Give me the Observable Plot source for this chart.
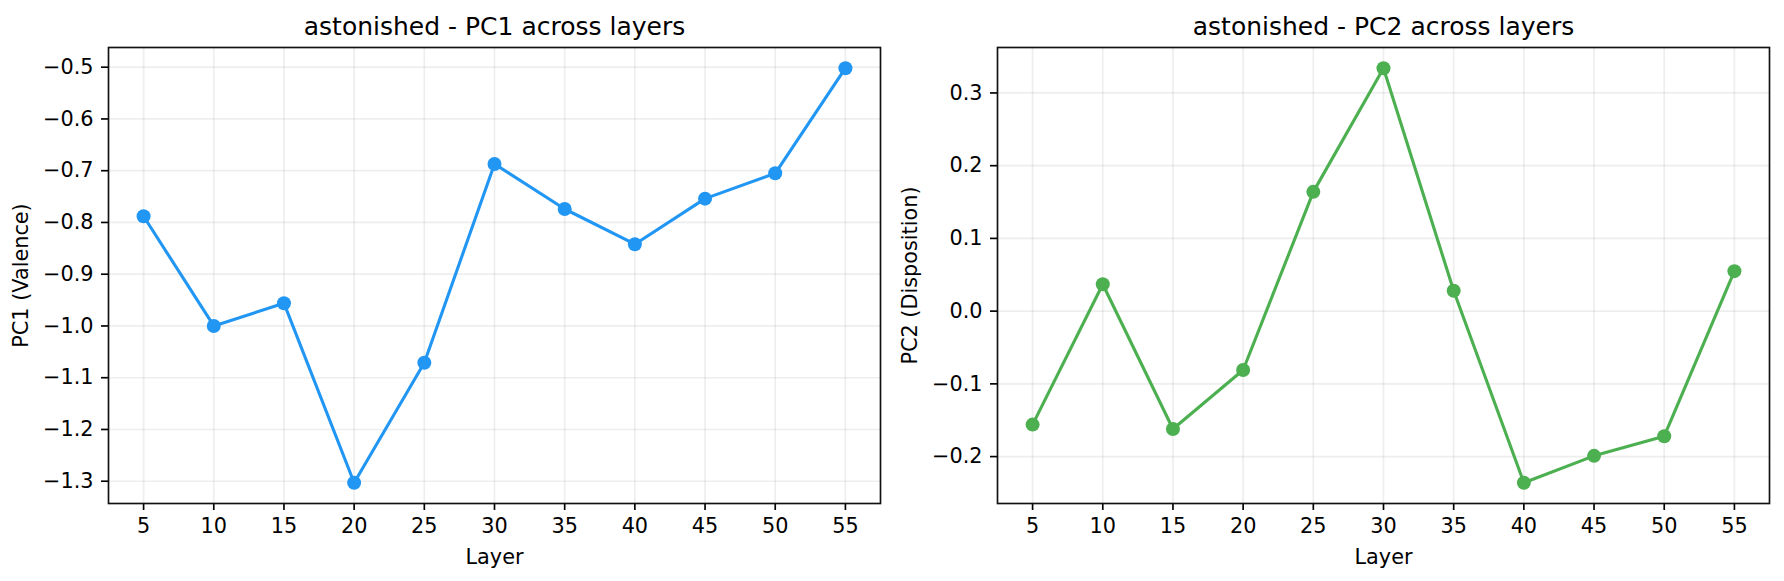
<!DOCTYPE html>
<html>
<head>
<meta charset="utf-8">
<script src="https://cdn.jsdelivr.net/npm/d3@7"></script>
<script src="https://cdn.jsdelivr.net/npm/@observablehq/plot@0.6"></script>
<style>
  html, body { margin: 0; padding: 0; background: white; }
  #wrap { display: flex; width: 1784px; height: 581px; }
</style>
</head>
<body>
<div id="wrap"></div>
<script>
const layers = [5, 10, 15, 20, 25, 30, 35, 40, 45, 50, 55];
const pc1Values = [-0.788, -1.000, -0.956, -1.303, -1.071, -0.687, -0.774, -0.842, -0.754, -0.705, -0.502];
const pc2Values = [-0.156, 0.037, -0.162, -0.081, 0.164, 0.334, 0.028, -0.236, -0.199, -0.172, 0.055];
const pc1Ticks = [-1.3, -1.2, -1.1, -1.0, -0.9, -0.8, -0.7, -0.6, -0.5];
const pc2Ticks = [-0.2, -0.1, 0.0, 0.1, 0.2, 0.3];
const emotion = "astonished";

function panel({values, ticks, color, title, ylabel, marginLeft, marginRight}) {
  const data = layers.map((l, i) => ({layer: l, value: values[i]}));
  const lo = d3.min(values), hi = d3.max(values);
  const pad = (hi - lo) * 0.05;
  const fmt = d3.format(".1f");
  return Plot.plot({
    width: 892,
    height: 581,
    marginLeft, marginRight,
    marginTop: 47,
    marginBottom: 78,
    style: {fontFamily: "'DejaVu Sans', sans-serif", fontSize: "20.8px", background: "white", color: "black", overflow: "visible"},
    x: {domain: [2.5, 57.5]},
    y: {domain: [lo - pad, hi + pad]},
    marks: [
      Plot.gridX(layers, {stroke: "#b0b0b0", strokeOpacity: 0.22, strokeWidth: 1.67}),
      Plot.gridY(ticks, {stroke: "#b0b0b0", strokeOpacity: 0.22, strokeWidth: 1.67}),
      Plot.axisX(layers, {tickSize: 7, tickPadding: 7.5, strokeWidth: 1.67, stroke: "black", label: null, fill: "black"}),
      Plot.axisY(ticks, {tickSize: 7, tickPadding: 8, strokeWidth: 1.67, stroke: "black", label: null, fill: "black", tickFormat: fmt}),
      Plot.line(data, {x: "layer", y: "value", stroke: color, strokeWidth: 3.1}),
      Plot.dot(data, {x: "layer", y: "value", fill: color, r: 7, stroke: "none"}),
      Plot.frame({stroke: "#111", strokeWidth: 1.67}),
      Plot.text([title], {frameAnchor: "top", lineAnchor: "bottom", dy: -13, fontSize: 25, fill: "black"}),
      Plot.text(["Layer"], {frameAnchor: "bottom", lineAnchor: "bottom", dy: 60, fontSize: 20.8, fill: "black"}),
      Plot.text([ylabel], {frameAnchor: "left", rotate: -90, lineAnchor: "middle", textAnchor: "middle", dx: -86.7, fontSize: 20.8, fill: "black"})
    ]
  });
}

const wrap = document.getElementById("wrap");
wrap.appendChild(panel({values: pc1Values, ticks: pc1Ticks, color: "#2196F3", title: emotion + " - PC1 across layers", ylabel: "PC1 (Valence)", marginLeft: 108, marginRight: 12}));
wrap.appendChild(panel({values: pc2Values, ticks: pc2Ticks, color: "#4CAF50", title: emotion + " - PC2 across layers", ylabel: "PC2 (Disposition)", marginLeft: 105, marginRight: 15}));
</script>
</body>
</html>
